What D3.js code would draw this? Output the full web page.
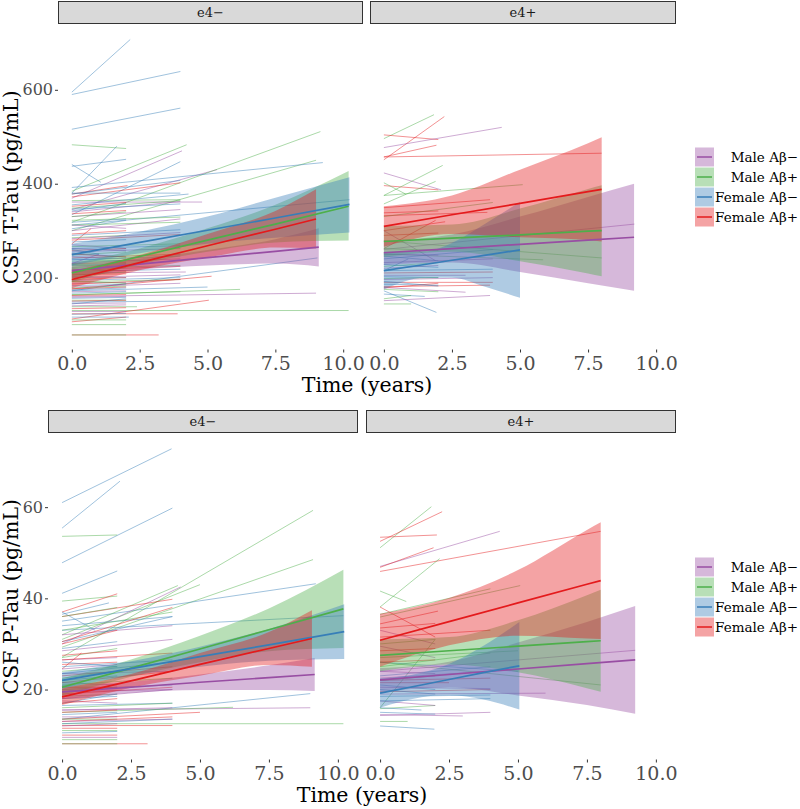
<!DOCTYPE html>
<html><head><meta charset="utf-8">
<script src="https://cdn.jsdelivr.net/npm/d3@7"></script>
<style>body{margin:0;background:#fff}svg{display:block}text{font-family:"DejaVu Serif",serif}</style>
</head><body><svg id="c" width="800" height="809"></svg>
<script>
// ---------- DATA ----------
const groups = ["Male Aβ−","Male Aβ+","Female Aβ−","Female Aβ+"];
const groupColors = ["#984EA3","#4DAF4A","#377EB8","#E41A1C"];
const facets = ["e4−","e4+"];
const timeTicks = [0,2.5,5,7.5,10];
const ttauTicks = [200,400,600];
const ptauTicks = [20,40,60];
const timeDomain = [-0.51,10.73];
const ttauDomain = [47,738];
const ptauDomain = [4.65,76.05];

// individual subject lines: [group, end time, value at 0, value at end]
const ttauLinesNeg = [
 [2,2.15,595,707],[2,4.0,590,639],[2,4.0,516,561],[1,2.0,483,475],[2,2.0,437,452],[2,1.07,441,403],
 [2,1.66,380,480],[1,4.23,384,483],[0,4.06,369,470],[2,4.0,334,447],[0,5.35,345,430],[1,9.16,318,511],
 [1,9.0,300,450],[2,9.25,392,445],[2,10.23,312,366],[1,10.2,130,130],[0,9.0,160,167],[2,9.05,172,242],
 [1,6.2,163,175],[3,5.15,176,203],[3,5.05,112,152],[3,3.9,123,123],[3,3.2,78,78],[1,2.0,78,78],
 [3,2.05,378,396],[2,4.0,378,407],[3,4.0,372,402],[1,4.0,364,366],[0,4.8,361,361],[2,4.0,380,380],
 [2,4.3,355,378],[1,4.0,348,364],[3,2.0,352,360],[0,4.0,340,362],[2,2.0,342,358],[1,4.0,322,329],
 [2,2.0,304,322],[0,4.0,300,325],[3,2.0,293,300],[3,2.0,336,343],[2,4.0,346,357],[0,4.0,330,345],
 [1,2.0,330,340],[3,0.7,272,304],[2,2.0,318,325],[1,4.0,312,318],[0,2.0,312,305],[2,4.0,290,302],
 [1,2.0,285,290],[0,4.0,283,296],[3,4.0,280,292],[2,2.0,276,281],[0,2.0,270,262],[1,4.0,266,272],
 [2,4.0,262,268],[3,2.0,258,262],[0,4.0,255,262],[2,2.0,252,244],[1,2.0,248,255],[0,2.0,245,240],
 [3,4.0,242,250],[2,4.0,238,246],[1,2.0,235,236],[0,4.0,232,240],[3,2.0,230,232],[2,2.0,226,230],
 [0,2.0,222,228],[1,4.0,220,226],[3,4.0,216,224],[2,4.0,213,218],[0,4.2,210,212],[3,2.0,207,208],
 [1,2.0,205,212],[2,2.0,202,200],[0,4.0,200,206],[3,2.0,196,200],[2,4.0,194,200],[1,4.0,191,196],
 [0,2.0,188,190],[3,4.0,186,196],[2,2.0,183,186],[0,4.0,180,188],[1,2.0,178,182],[3,2.0,176,180],
 [2,5.0,172,180],[0,2.0,170,172],[2,2.0,167,170],[1,4.0,164,170],[3,2.0,162,164],[0,2.0,158,160],
 [2,2.0,156,158],[1,2.0,152,152],[3,2.0,150,152],[2,4.0,148,150],[0,2.0,145,146],[1,2.4,138,138],
 [2,2.0,144,155],[3,2.0,106,116],[1,2.0,100,100],[2,2.1,116,116],[3,2.0,134,136],[0,2.0,128,128],
 [2,2.0,122,124],[1,2.0,110,110],[0,2.0,140,142],[2,1.0,260,250],[0,1.0,230,250],[3,2.0,218,214],
 [1,2.0,228,222],[2,2.0,240,236],[3,2.0,250,244],[0,2.0,262,258],[1,2.0,192,188],[2,2.0,174,178]
];
const ttauLinesPos = [
 [1,1.84,496,547],[3,2.22,451,543],[3,2.0,504,494],[0,4.33,477,520],[3,1.93,457,482],[3,8.0,457,465],
 [0,2.1,423,387],[1,5.1,375,398],[3,2.0,396,387],[1,2.16,375,439],[1,1.9,357,405],[1,0.8,402,378],
 [3,3.9,349,366],[3,3.8,332,339],[3,2.0,338,342],[1,4.0,330,360],[3,2.25,300,319],[0,1.9,300,236],
 [3,1.9,262,322],[1,8.0,278,242],[0,9.2,260,314],[1,5.85,250,238],[2,4.0,240,260],[0,4.0,232,240],
 [2,2.0,228,222],[1,2.0,224,232],[0,2.0,220,226],[2,4.0,215,218],[3,4.0,210,212],[0,3.0,205,205],
 [2,2.0,202,200],[1,2.0,198,200],[0,4.0,196,200],[3,4.0,190,190],[2,2.0,186,184],[0,3.0,179,169],
 [3,3.9,181,184],[2,1.93,172,126],[0,3.9,151,162],[1,1.0,144,144],[2,1.5,165,160],[1,2.0,175,170],
 [3,2.0,178,188],[2,2.0,192,182],[0,2.0,250,248],[2,0.9,215,240],[1,2.0,262,258],[3,2.0,290,295],
 [2,2.0,246,236],[1,1.0,155,162]
];
const ptauLinesNeg = [
 [2,3.97,61.0,72.8],[2,2.1,55.4,65.7],[2,4.0,47.8,59.8],[1,2.0,53.6,53.9],[2,2.0,41.1,46.0],
 [1,9.1,27.1,59.3],[1,9.1,29.3,48.5],[2,9.2,35.0,43.2],[2,10.2,33.0,36.2],[1,10.2,12.5,12.5],
 [2,9.0,13.5,19.1],[0,9.0,15.5,16.0],[1,6.2,15.0,16.1],[3,5.0,13.5,15.0],[3,4.0,12.1,12.1],
 [3,3.1,8.1,8.1],[1,2.0,8.1,8.1],[1,2.0,39.4,40.5],[1,5.0,31.0,43.0],[1,4.2,32.0,42.8],
 [0,4.3,30.0,42.5],[3,2.0,37.0,41.0],[3,4.0,36.0,39.8],[2,1.7,36.5,39.0],[2,1.2,37.0,33.0],
 [2,4.0,34.0,36.0],[1,4.0,33.0,37.0],[0,4.0,32.0,34.0],[2,4.0,30.5,36.0],[3,2.0,30.0,33.0],
 [2,2.0,29.0,30.5],[0,4.0,28.5,31.0],[1,2.0,27.0,29.0],[3,0.7,24.5,28.0],[0,2.0,26.5,27.0],
 [3,2.0,25.5,26.0],[2,4.0,25.0,26.5],[1,2.0,24.0,25.0],[0,4.0,23.5,24.0],[3,4.0,23.0,25.0],
 [2,2.0,22.0,23.0],[0,2.0,21.5,21.0],[1,4.0,21.0,22.5],[3,2.0,20.5,20.5],[2,4.0,20.0,21.0],
 [0,4.0,19.5,20.0],[3,4.0,19.0,20.5],[1,2.0,18.5,19.0],[2,2.0,18.0,18.5],[0,2.0,17.5,17.0],
 [3,2.0,17.0,18.0],[2,4.0,16.5,17.0],[1,4.0,16.0,17.0],[0,4.0,15.5,16.0],[3,2.0,15.0,15.5],
 [2,2.0,14.5,15.0],[0,2.0,14.0,14.0],[1,2.0,13.5,13.5],[3,4.0,13.0,14.0],[2,4.0,12.5,13.5],
 [0,2.0,12.0,12.5],[3,2.0,11.5,11.5],[1,2.0,11.0,11.0],[2,2.0,10.5,10.8],[3,2.0,10.0,10.0],
 [0,2.0,9.5,9.5],[1,2.0,9.0,9.0],[2,2.0,17.0,19.0],[0,4.0,18.0,20.0],[3,4.0,21.5,24.0],
 [1,2.0,22.5,24.0],[2,4.0,23.5,26.0],[3,4.0,26.5,28.0],[1,2.0,36.0,38.0],[3,4.0,30.5,38.0],
 [0,2.0,24.5,25.5],[2,2.0,26.0,25.0],[1,2.0,19.5,20.5],[3,2.0,27.5,28.5],[0,4.0,13.0,13.5]
];
const ptauLinesPos = [
 [1,1.86,51.1,60.1],[3,2.25,52.5,59.0],[3,2.06,53.4,53.9],[0,4.34,47.0,54.7],[3,8.0,45.9,54.7],
 [3,1.94,46.8,51.1],[1,2.16,38.1,48.7],[1,0.95,41.6,39.3],[3,2.0,38.1,31.5],[1,4.0,36.5,42.1],
 [1,5.08,35.9,42.8],[3,2.1,34.4,37.2],[3,2.0,33.5,34.5],[0,2.0,33.0,30.0],[1,2.0,16.0,31.0],
 [2,1.97,12.0,11.3],[1,1.0,13.0,13.0],[0,3.0,14.5,14.2],[0,4.0,14.3,15.0],[1,2.0,15.8,16.5],
 [2,2.0,15.0,14.6],[2,1.5,16.0,15.5],[0,2.0,17.5,16.5],[2,4.0,18.5,18.8],[3,4.0,19.5,20.0],
 [0,4.0,20.5,20.2],[2,2.0,21.0,20.0],[3,2.5,21.5,21.5],[1,2.0,22.0,23.0],[0,4.0,22.5,24.0],
 [2,4.0,23.0,25.0],[0,2.0,24.0,23.5],[1,4.0,25.0,28.0],[3,2.0,26.0,26.5],[1,5.0,27.0,28.5],
 [0,9.25,24.0,28.6],[1,8.0,26.0,21.0],[2,5.0,26.0,24.0],[3,2.0,28.5,29.0],[0,2.0,29.5,27.0],
 [1,2.0,30.0,31.0],[3,4.0,31.5,33.0],[2,2.0,20.0,19.0],[0,6.0,19.0,19.2],[3,4.0,22.0,22.5],
 [2,4.0,17.5,18.0]
];

// fitted trajectories with confidence band: [group, time, fit, lower, upper]
const ttauBandNeg = [
 [0,0,215,200,230],[0,2.5,229,217,241],[0,5,242.5,226,259],[0,7.5,256,230,282],[0,9.1,265,224,305],
 [1,0,210,190,230],[1,2.5,245,228,262],[1,5,280,255,305],[1,7.5,314,275,355],[1,10.2,352,279,427],
 [2,0,249,226,272],[2,2.5,275,252,298],[2,5,301,272,330],[2,7.5,327,285,370],[2,10.23,356,296,414],
 [3,0,196,178,214],[3,2.5,232,216,248],[3,5,268,243,293],[3,7.5,303,264,342],[3,9.0,325,262,388]
];
const ttauBandPos = [
 [0,0,253,227,279],[0,2.5,262,232,292],[0,5,271,212,330],[0,7.5,280,188,372],[0,9.19,286,172,400],
 [1,0,277,244,310],[1,2.5,284,255,313],[1,5,291,235,347],[1,7.5,299,209,389],[1,8.0,300,203,397],
 [2,0,215,175,255],[2,1.5,228,200,256],[2,2.5,237,200,274],[2,3.75,248,180,316],[2,5.0,259,157,361],
 [3,0,309,266,352],[3,2.5,334,293,375],[3,5,358,286,430],[3,7.5,383,280,486],[3,8.0,388,277,499]
];
const ptauBandNeg = [
 [0,0,19.5,18.0,21.0],[0,2.5,20.5,19.3,21.7],[0,5,21.6,19.9,23.3],[0,7.5,22.6,19.9,25.3],[0,9.16,23.3,19.7,26.9],
 [1,0,20.5,18.6,22.4],[1,2.5,24.7,22.8,26.6],[1,5,28.9,26.0,31.8],[1,7.5,33.1,28.4,37.8],[1,10.2,37.7,29.1,46.3],
 [2,0,22.0,20.2,23.8],[2,2.5,24.6,23.0,26.2],[2,5,27.2,25.0,29.4],[2,7.5,29.8,26.3,33.3],[2,10.23,32.7,26.7,38.7],
 [3,0,18.4,16.6,20.2],[3,2.5,21.9,20.4,23.4],[3,5,25.5,23.0,28.0],[3,7.5,29.0,25.4,32.6],[3,9.06,31.2,25.0,37.4]
];
const ptauBandPos = [
 [0,0,22.1,19.5,24.7],[0,2.5,23.3,20.5,26.1],[0,5,24.5,18.7,30.3],[0,7.5,25.7,16.6,34.8],[0,9.25,26.5,14.7,38.3],
 [1,0,27.5,24.0,31.0],[1,2.5,28.5,25.5,31.5],[1,5,29.5,23.8,35.2],[1,7.5,30.5,20.3,40.7],[1,8.0,30.7,19.5,41.9],
 [2,0,19.2,16.0,22.4],[2,1.5,21.0,18.3,23.7],[2,2.5,22.2,18.8,25.6],[2,3.75,23.7,17.8,29.6],[2,5.05,25.2,15.6,34.8],
 [3,0,30.8,25.0,36.6],[3,2.5,34.9,29.7,40.1],[3,5,39.0,31.8,46.2],[3,7.5,43.1,31.2,55.0],[3,8.0,43.9,31.1,56.7]
];

// ---------- LAYOUT ----------
const svg = d3.select("#c");
const rows = [
 {title:"CSF T-Tau (pg/mL)", ticks:ttauTicks, domain:ttauDomain, top:25, bottom:349.5, stripTop:1.5,
  panels:[[58,363],[370,676]], lines:[ttauLinesNeg,ttauLinesPos], bands:[ttauBandNeg,ttauBandPos], legendTop:147.5},
 {title:"CSF P-Tau (pg/mL)", ticks:ptauTicks, domain:ptauDomain, top:434, bottom:759.5, stripTop:410.5,
  panels:[[48,358],[366,676]], lines:[ptauLinesNeg,ptauLinesPos], bands:[ptauBandNeg,ptauBandPos], legendTop:557.5}
];

rows.forEach(row => {
  const y = d3.scaleLinear().domain(row.domain).range([row.bottom,row.top]);
  row.panels.forEach((p,pi) => {
    const x = d3.scaleLinear().domain(timeDomain).range([p[0],p[1]]);
    // strip
    svg.append("rect").attr("x",p[0]+0.5).attr("y",row.stripTop).attr("width",p[1]-p[0]-1).attr("height",22)
      .attr("fill","#D9D9D9").attr("stroke","#333").attr("stroke-width",1);
    svg.append("text").attr("x",(p[0]+p[1])/2).attr("y",row.stripTop+11).attr("dy","0.35em")
      .attr("text-anchor","middle").attr("font-size",13).attr("fill","#1A1A1A").text(facets[pi]);
    const g = svg.append("g");
    // subject lines
    g.selectAll("line.s").data(row.lines[pi]).join("line")
      .attr("x1",x(0)).attr("x2",d=>x(d[1])).attr("y1",d=>y(d[2])).attr("y2",d=>y(d[3]))
      .attr("stroke",d=>groupColors[d[0]]).attr("stroke-width",0.8).attr("stroke-opacity",0.6);
    // bands
    const bandGroups = d3.groups(row.bands[pi], d=>d[0]).sort((a,b)=>a[0]-b[0]);
    const area = d3.area().x(d=>x(d[1])).y0(d=>y(d[3])).y1(d=>y(d[4])).curve(d3.curveMonotoneX);
    bandGroups.forEach(([gi,pts]) => {
      g.append("path").attr("d",area(pts)).attr("fill",groupColors[gi]).attr("fill-opacity",0.4);
    });
    const fline = d3.line().x(d=>x(d[1])).y(d=>y(d[2]));
    bandGroups.forEach(([gi,pts]) => {
      g.append("path").attr("d",fline(pts)).attr("fill","none").attr("stroke",groupColors[gi]).attr("stroke-width",1.7);
    });
    // x axis
    const xa = svg.append("g").attr("transform",`translate(0,${row.bottom})`)
      .call(d3.axisBottom(x).tickValues(timeTicks).tickFormat(d3.format(".1f")).tickSize(3).tickPadding(4));
    xa.select(".domain").remove();
    xa.selectAll(".tick line").attr("stroke","#333");
    xa.selectAll(".tick text").attr("font-size",19).attr("fill","#4D4D4D").attr("font-family","DejaVu Serif");
    if (pi===0) {
      const ya = svg.append("g").attr("transform",`translate(${p[0]},0)`)
        .call(d3.axisLeft(y).tickValues(row.ticks).tickSize(3).tickPadding(2));
      ya.select(".domain").remove();
      ya.selectAll(".tick line").attr("stroke","#333");
      ya.selectAll(".tick text").attr("font-size",16).attr("fill","#4D4D4D").attr("font-family","DejaVu Serif");
    }
  });
  const mid = (row.top+row.bottom)/2;
  svg.append("text").attr("transform",`translate(18,${mid}) rotate(-90)`).attr("text-anchor","middle")
    .attr("font-size",20.5).attr("fill","#000").text(row.title);
  svg.append("text").attr("x",(row.panels[0][0]+row.panels[1][1])/2).attr("y",row.bottom+42.5)
    .attr("text-anchor","middle").attr("font-size",20.5).attr("fill","#000").text("Time (years)");
  // legend
  groups.forEach((name,i) => {
    const ky = row.legendTop + i*20;
    svg.append("rect").attr("x",695).attr("y",ky).attr("width",19).attr("height",19)
      .attr("fill",groupColors[i]).attr("fill-opacity",0.4);
    svg.append("line").attr("x1",697).attr("x2",712).attr("y1",ky+9.5).attr("y2",ky+9.5)
      .attr("stroke",groupColors[i]).attr("stroke-width",1.5);
    svg.append("text").attr("x",798).attr("y",ky+9.5).attr("dy","0.35em").attr("text-anchor","end")
      .attr("font-size",13.5).attr("fill","#000").text(name);
  });
});
</script></body></html>
